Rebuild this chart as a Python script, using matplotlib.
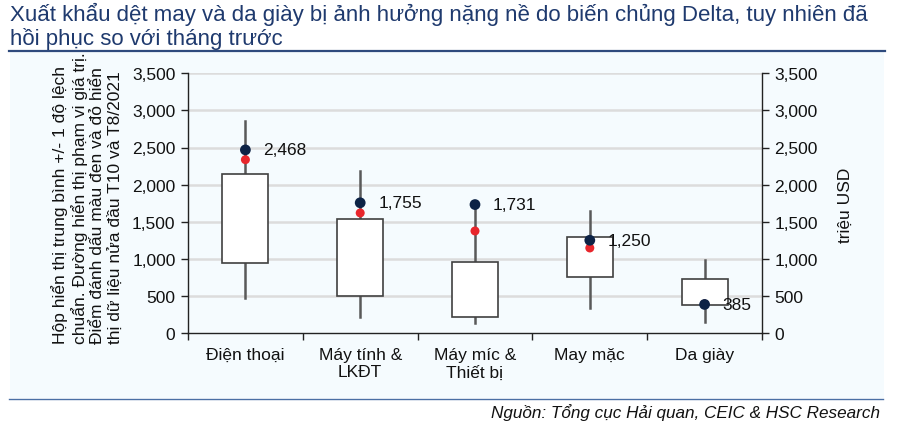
import matplotlib
matplotlib.use("Agg")
import matplotlib.pyplot as plt
from matplotlib.patches import Rectangle
from matplotlib.lines import Line2D

plt.rcParams['font.family'] = ['Liberation Sans', 'DejaVu Sans']

categories = ["Điện thoại", "Máy tính &\nLKĐT", "Máy míc &\nThiết bị", "May mặc", "Da giày"]
whisker_low = [470, 220, 130, 333, 144]
whisker_high = [2858, 2184, 1731, 1649, 980]
box_low = [944, 503, 220, 759, 382]
box_high = [2143, 1541, 957, 1290, 733]
latest = [2468, 1755, 1731, 1250, 385]      # black points (T10)
previous = [2336, 1618, 1375, 1146, 390]    # red points (T8/2021)
latest_labels = ["2,468", "1,755", "1,731", "1,250", "385"]
yticks = [0, 500, 1000, 1500, 2000, 2500, 3000, 3500]
ytick_labels = ["0", "500", "1,000", "1,500", "2,000", "2,500", "3,000", "3,500"]

title = "Xuất khẩu dệt may và da giày bị ảnh hưởng nặng nề do biến chủng Delta, tuy nhiên đã\nhồi phục so với tháng trước"
left_label = ("Hộp hiển thị trung bình +/- 1 độ lệch\nchuẩn. Đường hiển thị phạm vi giá trị.\n"
              "Điểm đánh dấu màu đen và đỏ hiển\nthị dữ liệu nửa đầu T10 và T8/2021")
right_label = "triệu USD"
source = "Nguồn: Tổng cục Hải quan, CEIC & HSC Research"

W, H = 903, 427
fig = plt.figure(figsize=(W / 100, H / 100), dpi=100)
fig.patch.set_facecolor("white")

# panel background
panel = Rectangle((10 / W, 1 - 399 / H), (884 - 10) / W, (399 - 52) / H,
                  transform=fig.transFigure, facecolor="#F5FBFE", edgecolor="none", zorder=-10)
fig.patches.append(panel)
fig.lines.append(Line2D([9 / W, 885 / W], [1 - 51.5 / H] * 2, transform=fig.transFigure,
                        color="#2E4A7D", lw=1.6, zorder=-5))
fig.lines.append(Line2D([9 / W, 883 / W], [1 - 399.5 / H] * 2, transform=fig.transFigure,
                        color="#4A6FA5", lw=1.0, zorder=-5))

fig.text(10 / W, 1 - 3 / H, title, ha="left", va="top", fontsize=16, color="#1F3A6E",
         linespacing=1.12)
fig.text(880 / W, 1 - 413 / H, source, ha="right", va="center", fontsize=12.3,
         style="italic", color="#111111")

ax = fig.add_axes([188 / W, 1 - 334 / H, (762 - 188) / W, (334 - 74.3) / H])
ax.set_facecolor("none")
n = len(categories)
ax.set_xlim(0, n)
ax.set_ylim(0, 3500)

for y in yticks[1:]:
    ax.axhline(y, color="#DCDCDC", lw=1.8, zorder=1)

bw = 0.4
for i in range(n):
    x = i + 0.5
    ax.plot([x, x], [whisker_low[i], whisker_high[i]], color="#595959", lw=1.8, zorder=2)
    ax.add_patch(Rectangle((x - bw / 2, box_low[i]), bw, box_high[i] - box_low[i],
                           facecolor="white", edgecolor="#404040", lw=1.2, zorder=3))
    ax.scatter([x], [previous[i]], s=42, color="#E8262C", zorder=4, edgecolors="none")
    ax.scatter([x], [latest[i]], s=60, color="#0D2346", zorder=5, edgecolors="none")
    ax.annotate(latest_labels[i], (x, latest[i]), xytext=(18, 0), textcoords="offset pixels",
                ha="left", va="center", fontsize=12.5, color="#111111", zorder=6)

ax.spines["top"].set_visible(False)
for s in ["left", "right", "bottom"]:
    ax.spines[s].set_color("#222222")
    ax.spines[s].set_linewidth(1.0)

ax.set_yticks(yticks)
ax.set_yticklabels(ytick_labels)
ax.tick_params(axis="y", which="both", direction="out", length=5, width=1.0, colors="#222222",
               labelsize=12.5, labelcolor="#111111", right=True, labelright=True, pad=4)
ax.set_xticks(range(n + 1))
ax.set_xticklabels([])
ax.set_xticks([i + 0.5 for i in range(n)], minor=True)
ax.set_xticklabels(categories, minor=True)
ax.tick_params(axis="x", which="major", direction="out", length=5, width=1.0, colors="#222222")
ax.tick_params(axis="x", which="minor", length=0, labelsize=12.5, labelcolor="#111111", pad=10)
for lbl in ax.get_xticklabels(minor=True):
    lbl.set_linespacing(1.2)

fig.text(87 / W, 1 - 198 / H, left_label, rotation=90, ha="center", va="center",
         fontsize=12.5, color="#111111", linespacing=1.2, multialignment="left")
fig.text(845 / W, 1 - 205 / H, right_label, rotation=90, ha="center", va="center",
         fontsize=12.5, color="#111111")

fig.savefig("out.png", dpi=100, facecolor=fig.get_facecolor())
